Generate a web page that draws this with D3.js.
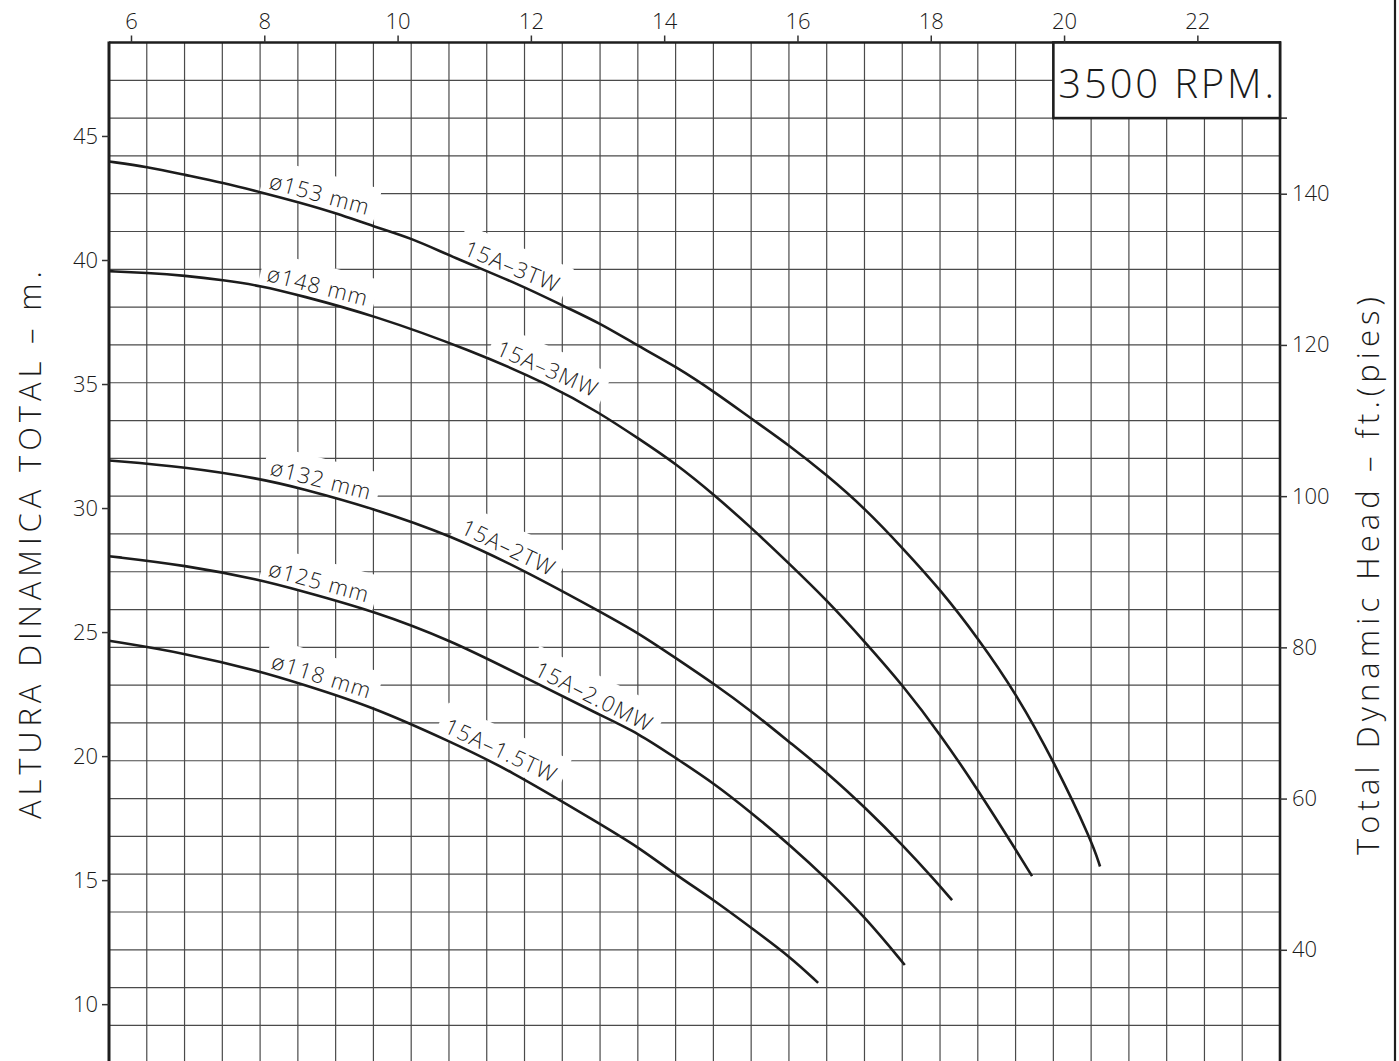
<!DOCTYPE html>
<html>
<head>
<meta charset="utf-8">
<script src="https://cdn.jsdelivr.net/npm/d3@7"></script>
<style>
    body { margin: 0; background: #fff; }
    svg text { font-family: "Open Sans", "DejaVu Sans", sans-serif; font-weight: 300; fill: #1a1a1a; }
</style>
</head>
<body>
<div id="chart"></div>
<script>
// ticks
const flowTicks = [6, 8, 10, 12, 14, 16, 18, 20, 22];
const headTicksM = [10, 15, 20, 25, 30, 35, 40, 45];
const headTicksFt = [40, 60, 80, 100, 120, 140];

// curve names
const diameterNames = ["ø153 mm", "ø148 mm", "ø132 mm", "ø125 mm", "ø118 mm"];
const modelNames = ["15A–3TW", "15A–3MW", "15A–2TW", "15A–2.0MW", "15A–1.5TW"];

// flow (top axis) and head in m
const flow153 = [5.67, 6.24, 6.81, 7.38, 7.95, 8.54, 9.09, 9.65, 10.22, 10.79, 11.91, 12.48, 13.04, 13.61, 14.18, 14.75, 15.32, 15.87, 16.44, 17.01, 17.58, 18.15, 18.71, 19.28, 19.85, 20.42, 20.54];
const head153 = [43.97, 43.76, 43.43, 43.11, 42.73, 42.31, 41.88, 41.34, 40.87, 40.16, 38.92, 38.15, 37.45, 36.53, 35.70, 34.69, 33.58, 32.54, 31.33, 29.99, 28.38, 26.69, 24.75, 22.53, 19.77, 16.55, 15.55];

const flow148 = [5.67, 6.24, 6.81, 7.38, 7.95, 8.54, 9.63, 11.09, 12.29, 13.04, 13.61, 14.18, 14.75, 15.32, 15.87, 16.44, 17.01, 17.58, 18.15, 18.71, 19.28, 19.52];
const head148 = [39.55, 39.48, 39.37, 39.19, 38.96, 38.57, 37.78, 36.37, 34.96, 33.82, 32.81, 31.78, 30.53, 29.18, 27.77, 26.29, 24.61, 22.86, 20.85, 18.63, 16.21, 15.16];

const flow132 = [5.67, 6.81, 7.95, 8.54, 9.63, 10.79, 11.94, 13.04, 13.61, 14.18, 14.75, 15.32, 15.89, 16.46, 17.03, 17.58, 18.06, 18.32];
const head132 = [31.92, 31.66, 31.18, 30.80, 29.99, 28.91, 27.43, 25.82, 24.97, 23.94, 22.91, 21.79, 20.54, 19.30, 17.89, 16.41, 15.00, 14.19];

const flow125 = [5.67, 6.81, 7.95, 8.54, 9.63, 10.79, 11.94, 13.04, 13.61, 14.18, 14.75, 15.32, 15.89, 16.46, 17.03, 17.61];
const head125 = [28.06, 27.70, 27.10, 26.67, 25.86, 24.68, 23.13, 21.65, 20.93, 19.91, 18.90, 17.69, 16.41, 15.00, 13.46, 11.58];

const flow118 = [5.67, 6.81, 7.95, 8.54, 9.63, 10.79, 11.64, 13.04, 13.61, 14.18, 14.75, 15.32, 15.89, 16.31];
const head118 = [24.65, 24.15, 23.41, 22.92, 21.99, 20.58, 19.50, 17.26, 16.34, 15.20, 14.19, 13.05, 11.91, 10.86];

const rpmText = "3500  RPM.";

const FT_PER_M = 3.28084;

class PumpChart {

    constructor(_parentElement) {
        this.parentElement = _parentElement;
        this.curves = [
            { flow: flow153, head: head153 },
            { flow: flow148, head: head148 },
            { flow: flow132, head: head132 },
            { flow: flow125, head: head125 },
            { flow: flow118, head: head118 }
        ];
        this.curves.forEach((c, i) => {
            c.points = c.flow.map((q, j) => ({ q: q, h: c.head[j] }));
            c.diameter = diameterNames[i];
            c.model = modelNames[i];
        });
        this.initVis();
    }

    initVis() {
        let vis = this;

        vis.width = 1399;
        vis.height = 1061;
        // plot box (bottom runs off the page like the original)
        vis.left = 109;
        vis.right = 1280;
        vis.top = 42.5;
        vis.bottom = 1101;

        vis.svg = d3.select("#" + vis.parentElement).append("svg")
            .attr("width", vis.width)
            .attr("height", vis.height);

        vis.xScale = d3.scaleLinear().domain([5.67, 23.24]).range([vis.left, vis.right]);
        // feet on the right, meters on the left, same pixels
        vis.yFt = d3.scaleLinear().domain([160, 20]).range([vis.top, vis.bottom]);
        vis.yM = d3.scaleLinear().domain([160 / FT_PER_M, 20 / FT_PER_M]).range([vis.top, vis.bottom]);

        vis.updateVis();
    }

    updateVis() {
        let vis = this;

        // square grid: 31 columns, rows every 5 ft
        let colScale = d3.scaleLinear().domain([0, 31]).range([vis.left, vis.right]);
        let grid = vis.svg.append("g").attr("class", "grid");
        grid.selectAll(".vline")
            .data(d3.range(1, 31))
            .enter().append("line")
            .attr("x1", d => colScale(d)).attr("x2", d => colScale(d))
            .attr("y1", vis.top).attr("y2", vis.height)
            .attr("stroke", "#4a4a4a").attr("stroke-width", 1.2);
        grid.selectAll(".hline")
            .data(d3.range(20, 160, 5))
            .enter().append("line")
            .attr("x1", vis.left).attr("x2", vis.right)
            .attr("y1", d => vis.yFt(d)).attr("y2", d => vis.yFt(d))
            .attr("stroke", "#4a4a4a").attr("stroke-width", 1.2);

        let line = d3.line()
            .x(d => vis.xScale(d.q))
            .y(d => vis.yFt(d.h * FT_PER_M))
            .curve(d3.curveBasis);

        // where the labels sit along each curve (flow value of text start)
        let diaAt = [8.03, 8.0, 8.05, 8.02, 8.06];
        let modelAt = [10.94, 11.42, 10.89, 11.99, 10.64];

        let labels = vis.svg.append("g").attr("class", "labels");
        vis.curves.forEach((c, i) => {
            vis.addLabel(labels, c, c.diameter, diaAt[i]);
            vis.addLabel(labels, c, c.model, modelAt[i]);
        });

        vis.svg.append("g").attr("class", "curves")
            .selectAll("path")
            .data(vis.curves)
            .enter().append("path")
            .attr("d", d => line(d.points))
            .attr("fill", "none")
            .attr("stroke", "#1c1c1c")
            .attr("stroke-width", 2.6);

        // frame
        let frame = vis.svg.append("g").attr("stroke", "#1e1e1e").attr("fill", "none");
        frame.append("line").attr("x1", vis.left).attr("x2", vis.left).attr("y1", vis.top - 1).attr("y2", vis.height).attr("stroke-width", 3);
        frame.append("line").attr("x1", vis.right).attr("x2", vis.right).attr("y1", vis.top - 1).attr("y2", vis.height).attr("stroke-width", 2.6);
        frame.append("line").attr("x1", vis.left).attr("x2", vis.right + 1).attr("y1", vis.top).attr("y2", vis.top).attr("stroke-width", 2.6);
        // page edge on the right
        frame.append("line").attr("x1", 1395).attr("x2", 1395).attr("y1", 0).attr("y2", vis.height).attr("stroke-width", 2.2);

        // rpm box, spans the last 6 columns and the top 10 ft
        let bx = colScale(25), by = vis.yFt(150);
        vis.svg.append("rect")
            .attr("x", bx).attr("y", vis.top)
            .attr("width", vis.right - bx).attr("height", by - vis.top)
            .attr("fill", "#fff").attr("stroke", "#1e1e1e").attr("stroke-width", 2.6);
        vis.svg.append("line")
            .attr("x1", vis.right).attr("x2", vis.right + 7)
            .attr("y1", by).attr("y2", by)
            .attr("stroke", "#1e1e1e").attr("stroke-width", 1.5);
        vis.svg.append("text")
            .attr("x", bx + 5).attr("y", by - 20)
            .attr("textLength", vis.right - bx - 11)
            .attr("lengthAdjust", "spacing")
            .style("font-size", "40px")
            .text(rpmText);

        // axes
        let xAxis = d3.axisTop(vis.xScale).tickValues(flowTicks).tickSize(7).tickPadding(7).tickFormat(d3.format("d"));
        let gx = vis.svg.append("g").attr("transform", "translate(0," + vis.top + ")").call(xAxis);

        let leftAxis = d3.axisLeft(vis.yM).tickValues(headTicksM).tickSize(7).tickPadding(4).tickFormat(d3.format("d"));
        let gl = vis.svg.append("g").attr("transform", "translate(" + vis.left + ",0)").call(leftAxis);

        let rightAxis = d3.axisRight(vis.yFt).tickValues(headTicksFt).tickSize(7).tickPadding(5).tickFormat(d3.format("d"));
        let gr = vis.svg.append("g").attr("transform", "translate(" + vis.right + ",0)").call(rightAxis);

        [gx, gl, gr].forEach(g => {
            g.select(".domain").remove();
            g.selectAll(".tick line").attr("stroke", "#333").attr("stroke-width", 1.5);
            g.selectAll(".tick text")
                .style("font-size", "22px")
                .style("font-family", "\"Open Sans\", \"DejaVu Sans\", sans-serif")
                .attr("fill", "#1a1a1a");
        });

        // axis titles
        vis.svg.append("text")
            .attr("transform", "translate(41,545) rotate(-90)")
            .attr("text-anchor", "middle")
            .attr("textLength", 548)
            .attr("lengthAdjust", "spacing")
            .style("font-size", "31px")
            .text("ALTURA DINAMICA TOTAL  –  m.");

        vis.svg.append("text")
            .attr("transform", "translate(1379,576) rotate(-90)")
            .attr("text-anchor", "middle")
            .attr("textLength", 558)
            .attr("lengthAdjust", "spacing")
            .style("font-size", "31px")
            .text("Total Dynamic Head  –  ft.(pies)");
    }

    // head at a given flow, straight between read points (only for placing text)
    headAt(c, q) {
        let i = d3.bisector(d => d.q).left(c.points, q);
        i = Math.max(1, Math.min(c.points.length - 1, i));
        let a = c.points[i - 1], b = c.points[i];
        return a.h + (b.h - a.h) * (q - a.q) / (b.q - a.q);
    }

    addLabel(parent, c, label, q) {
        let vis = this;
        let px = vis.xScale(q);
        let py = vis.yFt(vis.headAt(c, q) * FT_PER_M);
        let px2 = vis.xScale(q + 0.8);
        let py2 = vis.yFt(vis.headAt(c, q + 0.8) * FT_PER_M);
        let angle = Math.atan2(py2 - py, px2 - px) * 180 / Math.PI;

        let g = parent.append("g")
            .attr("transform", "translate(" + px + "," + py + ") rotate(" + angle + ")");
        let t = g.append("text")
            .attr("y", -6)
            .style("font-size", "22px")
            .style("letter-spacing", "1.2px")
            .text(label);
        let bb = t.node().getBBox();
        g.insert("rect", "text")
            .attr("x", bb.x - 7).attr("y", bb.y - 5)
            .attr("width", bb.width + 14).attr("height", bb.height + 6)
            .attr("fill", "#fff");
    }
}

new PumpChart("chart");
</script>
</body>
</html>
